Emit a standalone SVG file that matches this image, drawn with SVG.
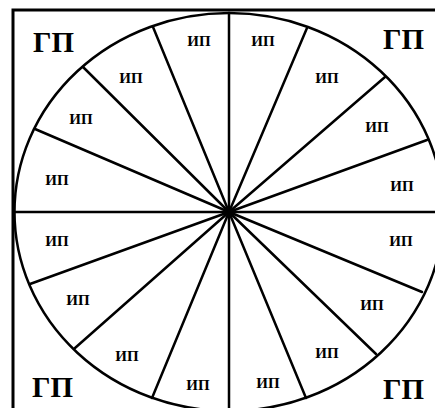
<svg xmlns="http://www.w3.org/2000/svg" width="435" height="408" viewBox="0 0 435 408">
<style>
.big{font-family:"Liberation Serif","Times New Roman",serif;font-weight:bold;font-size:29px;fill:#000}
.sm{font-family:"Liberation Serif","Times New Roman",serif;font-weight:bold;font-size:15px;fill:#000;text-anchor:middle}
.ln{stroke:#000;stroke-width:2.5;fill:none;stroke-linecap:round}
</style>
<rect width="435" height="408" fill="#fff"/>
<g id="frame"><rect x="13" y="10" width="440" height="420" fill="none" stroke="#000" stroke-width="3"/></g>
<g id="circle"><ellipse cx="229" cy="212" rx="214.5" ry="199" class="ln"/></g>
<g id="connectors" class="ln">
<line x1="229" y1="212" x2="229" y2="13"/>
<line x1="229" y1="212" x2="229" y2="411"/>
<line x1="15" y1="212" x2="443" y2="212"/>
<line x1="229" y1="212" x2="153" y2="27"/>
<line x1="229" y1="212" x2="307" y2="28"/>
<line x1="229" y1="212" x2="83" y2="67"/>
<line x1="229" y1="212" x2="385" y2="77"/>
<line x1="229" y1="212" x2="35" y2="129"/>
<line x1="229" y1="212" x2="427" y2="140"/>
<line x1="229" y1="212" x2="30" y2="284"/>
<line x1="229" y1="212" x2="422" y2="292"/>
<line x1="229" y1="212" x2="75" y2="348"/>
<line x1="229" y1="212" x2="376" y2="354"/>
<line x1="229" y1="212" x2="152" y2="398"/>
<line x1="229" y1="212" x2="306" y2="398"/>
</g>
<g id="gp-tl"><text class="big" x="33" y="52">ГП</text></g>
<g id="gp-tr"><text class="big" x="383" y="49">ГП</text></g>
<g id="gp-bl"><text class="big" x="32" y="397">ГП</text></g>
<g id="gp-br"><text class="big" x="383" y="399">ГП</text></g>
<g id="ip1"><text class="sm" x="199" y="46">ИП</text></g>
<g id="ip2"><text class="sm" x="263" y="46">ИП</text></g>
<g id="ip3"><text class="sm" x="131" y="83">ИП</text></g>
<g id="ip4"><text class="sm" x="327" y="83">ИП</text></g>
<g id="ip5"><text class="sm" x="81" y="124">ИП</text></g>
<g id="ip6"><text class="sm" x="377" y="132">ИП</text></g>
<g id="ip7"><text class="sm" x="57" y="185">ИП</text></g>
<g id="ip8"><text class="sm" x="402" y="191">ИП</text></g>
<g id="ip9"><text class="sm" x="57" y="246">ИП</text></g>
<g id="ip10"><text class="sm" x="401" y="246">ИП</text></g>
<g id="ip11"><text class="sm" x="78" y="305">ИП</text></g>
<g id="ip12"><text class="sm" x="372" y="310">ИП</text></g>
<g id="ip13"><text class="sm" x="127" y="361">ИП</text></g>
<g id="ip14"><text class="sm" x="327" y="358">ИП</text></g>
<g id="ip15"><text class="sm" x="198" y="390">ИП</text></g>
<g id="ip16"><text class="sm" x="268" y="388">ИП</text></g>
</svg>
